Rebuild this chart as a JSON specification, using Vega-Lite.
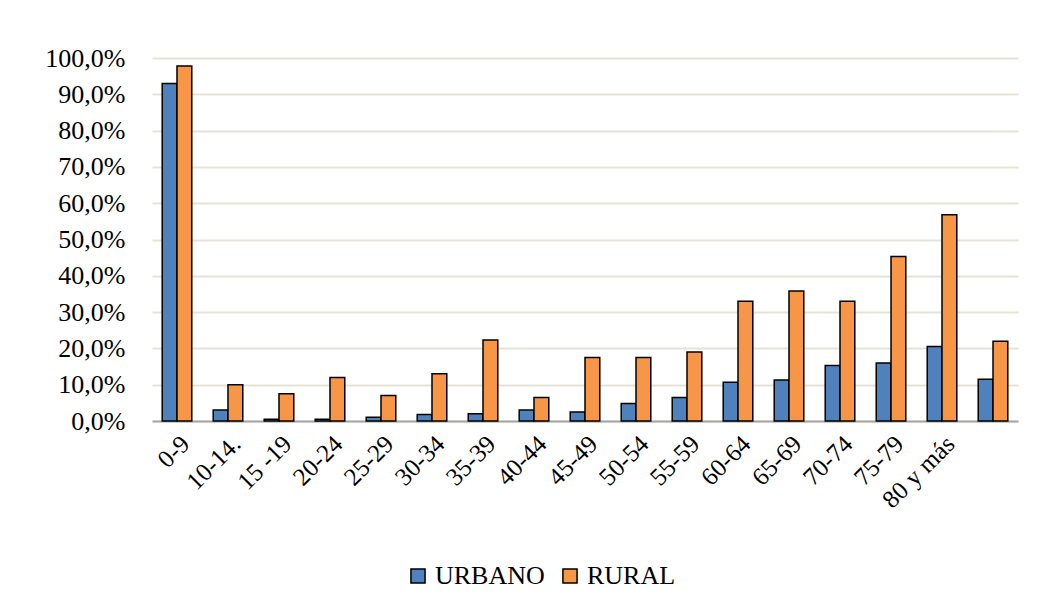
{
  "$schema": "https://vega.github.io/schema/vega-lite/v6.json",
  "autosize": "none",
  "width": 866,
  "height": 363,
  "padding": {"left": 152, "top": 58, "right": 35, "bottom": 189},
  "background": "white",
  "config": {
    "font": "Liberation Serif",
    "view": {"stroke": null}
  },
  "data": {
    "values": [
      {"grupo": "0-9", "zona": "URBANO", "valor": 93.0},
      {"grupo": "0-9", "zona": "RURAL", "valor": 97.8},
      {"grupo": "10-14.", "zona": "URBANO", "valor": 3.0},
      {"grupo": "10-14.", "zona": "RURAL", "valor": 10.0},
      {"grupo": "15 -19", "zona": "URBANO", "valor": 0.5},
      {"grupo": "15 -19", "zona": "RURAL", "valor": 7.5},
      {"grupo": "20-24", "zona": "URBANO", "valor": 0.5},
      {"grupo": "20-24", "zona": "RURAL", "valor": 12.0},
      {"grupo": "25-29", "zona": "URBANO", "valor": 1.0},
      {"grupo": "25-29", "zona": "RURAL", "valor": 7.0},
      {"grupo": "30-34", "zona": "URBANO", "valor": 1.8},
      {"grupo": "30-34", "zona": "RURAL", "valor": 13.0},
      {"grupo": "35-39", "zona": "URBANO", "valor": 2.0},
      {"grupo": "35-39", "zona": "RURAL", "valor": 22.3},
      {"grupo": "40-44", "zona": "URBANO", "valor": 3.0},
      {"grupo": "40-44", "zona": "RURAL", "valor": 6.5},
      {"grupo": "45-49", "zona": "URBANO", "valor": 2.5},
      {"grupo": "45-49", "zona": "RURAL", "valor": 17.5},
      {"grupo": "50-54", "zona": "URBANO", "valor": 4.8},
      {"grupo": "50-54", "zona": "RURAL", "valor": 17.5},
      {"grupo": "55-59", "zona": "URBANO", "valor": 6.5},
      {"grupo": "55-59", "zona": "RURAL", "valor": 19.0},
      {"grupo": "60-64", "zona": "URBANO", "valor": 10.7},
      {"grupo": "60-64", "zona": "RURAL", "valor": 33.0},
      {"grupo": "65-69", "zona": "URBANO", "valor": 11.3},
      {"grupo": "65-69", "zona": "RURAL", "valor": 35.8},
      {"grupo": "70-74", "zona": "URBANO", "valor": 15.3},
      {"grupo": "70-74", "zona": "RURAL", "valor": 33.0},
      {"grupo": "75-79", "zona": "URBANO", "valor": 16.0},
      {"grupo": "75-79", "zona": "RURAL", "valor": 45.3},
      {"grupo": "80 y más", "zona": "URBANO", "valor": 20.5},
      {"grupo": "80 y más", "zona": "RURAL", "valor": 56.8},
      {"grupo": " ", "zona": "URBANO", "valor": 11.5},
      {"grupo": " ", "zona": "RURAL", "valor": 22.0}
    ]
  },
  "mark": {"type": "bar", "stroke": "black", "strokeWidth": 1.5},
  "encoding": {
    "x": {
      "field": "grupo",
      "type": "nominal",
      "sort": null,
      "title": null,
      "scale": {"paddingInner": 0.42, "paddingOuter": 0.2},
      "axis": {
        "labelAngle": -45,
        "labelFontSize": 25,
        "labelColor": "black",
        "labelPadding": 10,
        "ticks": false,
        "domainColor": "#a6a6a6",
        "domainWidth": 2
      }
    },
    "xOffset": {"field": "zona", "type": "nominal", "sort": ["URBANO", "RURAL"]},
    "y": {
      "field": "valor",
      "type": "quantitative",
      "title": null,
      "scale": {"domain": [0, 100]},
      "axis": {
        "values": [0, 10, 20, 30, 40, 50, 60, 70, 80, 90, 100],
        "labelExpr": "replace(format(datum.value, '.1f'), '.', ',') + '%'",
        "labelFontSize": 26,
        "labelColor": "black",
        "labelPadding": 27,
        "ticks": false,
        "domain": false,
        "gridColor": "#e6e3d6",
        "gridWidth": 2
      }
    },
    "color": {
      "field": "zona",
      "type": "nominal",
      "sort": ["URBANO", "RURAL"],
      "scale": {"domain": ["URBANO", "RURAL"], "range": ["#4f81bd", "#f79646"]},
      "legend": {
        "title": null,
        "orient": "none",
        "direction": "horizontal",
        "legendX": 253,
        "legendY": 505,
        "symbolType": "square",
        "symbolSize": 200,
        "symbolStrokeColor": "black",
        "symbolStrokeWidth": 1.5,
        "labelFontSize": 26,
        "labelColor": "black",
        "columnPadding": 12,
        "labelOffset": 4
      }
    }
  }
}
